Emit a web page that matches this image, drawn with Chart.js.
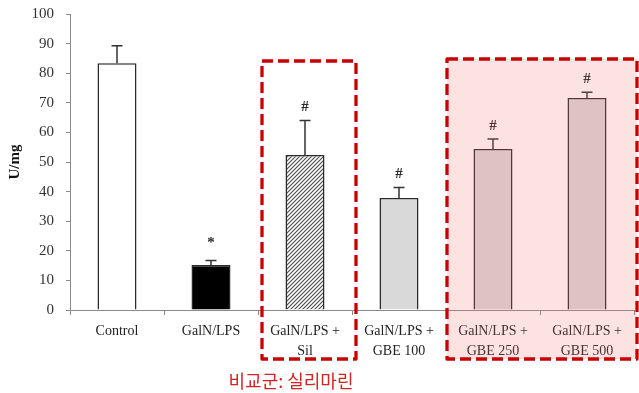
<!DOCTYPE html>
<html>
<head>
<meta charset="utf-8">
<script src="https://cdn.jsdelivr.net/npm/chart.js@4.4.1/dist/chart.umd.min.js"></script>
<style>
  html, body { margin: 0; padding: 0; background: #ffffff; }
  #wrap { width: 639px; height: 393px; position: relative; }
</style>
</head>
<body>
<div id="wrap"><canvas id="chart" width="639" height="393"></canvas></div>
<script>
// Groups and their measured activity (U/mg), with upward error bars
const categories = [
  ["Control"],
  ["GalN/LPS"],
  ["GalN/LPS +", "Sil"],
  ["GalN/LPS +", "GBE 100"],
  ["GalN/LPS +", "GBE 250"],
  ["GalN/LPS +", "GBE 500"]
];
const means = [83.4, 15.2, 52.4, 37.8, 54.4, 71.6];
const errors = [5.9, 1.5, 11.6, 3.6, 3.4, 2.0];
const significance = ["", "*", "#", "#", "#", "#"];
const yTickValues = [0, 10, 20, 30, 40, 50, 60, 70, 80, 90, 100];
const yAxisTitle = "U/mg";
const comparisonNote = "비교군: 실리마린";

// Diagonal hatch fill for the silymarin bar
function hatchPattern() {
  const c = document.createElement("canvas");
  c.width = 4; c.height = 4;
  const g = c.getContext("2d");
  g.fillStyle = "#ffffff";
  g.fillRect(0, 0, 4, 4);
  g.strokeStyle = "#4a4a4a";
  g.lineWidth = 1.1;
  g.beginPath();
  g.moveTo(0, 4); g.lineTo(4, 0);
  g.moveTo(-1, 1); g.lineTo(1, -1);
  g.moveTo(3, 5); g.lineTo(5, 3);
  g.stroke();
  return document.getElementById("chart").getContext("2d").createPattern(c, "repeat");
}

const barFills = ["#ffffff", "#000000", hatchPattern(), "#d9d9d9", "#d9d9d9", "#d9d9d9"];

// Error bars and significance marks above each bar
const errorBarPlugin = {
  id: "errorBars",
  afterDatasetsDraw(chart) {
    const ctx = chart.ctx;
    const meta = chart.getDatasetMeta(0);
    const y = chart.scales.y;
    ctx.save();
    meta.data.forEach((bar, i) => {
      const top = y.getPixelForValue(means[i]);
      const errTop = y.getPixelForValue(means[i] + errors[i]);
      ctx.strokeStyle = "#333333";
      ctx.lineWidth = 1.5;
      ctx.beginPath();
      ctx.moveTo(bar.x, top);
      ctx.lineTo(bar.x, errTop);
      ctx.moveTo(bar.x - 5.5, errTop);
      ctx.lineTo(bar.x + 5.5, errTop);
      ctx.stroke();
      if (significance[i]) {
        ctx.fillStyle = "#2a2a2a";
        ctx.font = "bold 15px 'Liberation Serif'";
        ctx.textAlign = "center";
        ctx.textBaseline = "middle";
        const off = significance[i] === "*" ? 17 : 13;
        ctx.fillText(significance[i], bar.x, errTop - off);
      }
    });
    ctx.restore();
  }
};

// Highlight boxes around the reference drug and the GBE dose groups
const highlightPlugin = {
  id: "highlights",
  afterDraw(chart) {
    const ctx = chart.ctx;
    const x = chart.scales.x;
    const area = chart.chartArea;
    const half = (x.getPixelForValue(1) - x.getPixelForValue(0)) / 2;
    const bottom = 359;

    const b1 = { l: x.getPixelForValue(2) - half + 4, r: x.getPixelForValue(2) + half + 4, t: area.top + 47 };
    const b2 = { l: x.getPixelForValue(4) - half + 1, r: x.getPixelForValue(5) + half + 3, t: area.top + 45 };

    ctx.save();
    // pink tint over the GBE 250 / 500 groups
    ctx.fillStyle = "rgba(245, 110, 110, 0.2)";
    ctx.fillRect(b2.l, b2.t, b2.r - b2.l, bottom - b2.t);

    ctx.strokeStyle = "#c80000";
    ctx.lineWidth = 3.3;
    ctx.setLineDash([11, 5]);
    ctx.lineJoin = "round";
    ctx.strokeRect(b1.l, b1.t, b1.r - b1.l, bottom - b1.t);
    ctx.strokeRect(b2.l, b2.t, b2.r - b2.l, bottom - b2.t);
    ctx.setLineDash([]);

    ctx.fillStyle = "#d22424";
    ctx.font = "18px 'Noto Sans CJK KR'";
    ctx.textAlign = "center";
    ctx.textBaseline = "middle";
    ctx.fillText(comparisonNote, (b1.l + b1.r) / 2 - 18, 381);
    ctx.restore();
  }
};

new Chart(document.getElementById("chart"), {
  type: "bar",
  data: {
    labels: categories,
    datasets: [{
      data: means,
      backgroundColor: barFills,
      borderColor: "#2a2a2a",
      borderWidth: 1.5,
      borderSkipped: "bottom",
      categoryPercentage: 1.0,
      barPercentage: 0.415
    }]
  },
  options: {
    responsive: false,
    animation: false,
    devicePixelRatio: 1,
    layout: { padding: { top: 14, right: 5, left: 0, bottom: 0 } },
    plugins: {
      legend: { display: false },
      tooltip: { enabled: false }
    },
    scales: {
      x: {
        grid: {
          display: true,
          drawOnChartArea: false,
          drawTicks: true,
          tickLength: 5,
          color: "#8a8a8a",
          offset: true
        },
        border: { color: "#8a8a8a", width: 1 },
        ticks: {
          color: "#222222",
          font: { family: "'Liberation Serif'", size: 14, lineHeight: 1.45 },
          padding: 6,
          maxRotation: 0,
          autoSkip: false
        },
        afterFit(scale) {
          scale.height = 83;
          scale.paddingLeft = 0;
          scale.paddingRight = 0;
        }
      },
      y: {
        min: 0,
        max: 100,
        afterBuildTicks(scale) { scale.ticks = yTickValues.map(v => ({ value: v })); },
        grid: {
          display: true,
          drawOnChartArea: false,
          drawTicks: true,
          tickLength: 4,
          color: "#8a8a8a"
        },
        border: { color: "#8a8a8a", width: 1 },
        ticks: {
          color: "#333333",
          font: { family: "'Liberation Serif'", size: 15 },
          padding: 12
        },
        title: {
          display: true,
          text: yAxisTitle,
          color: "#111111",
          font: { family: "'Liberation Serif'", size: 15, weight: "bold" },
          padding: { top: 6, bottom: 0 }
        },
        afterFit(scale) {
          scale.width = 70;
          scale.paddingTop = 0;
          scale.paddingBottom = 0;
        }
      }
    }
  },
  plugins: [errorBarPlugin, highlightPlugin]
});
</script>
</body>
</html>
